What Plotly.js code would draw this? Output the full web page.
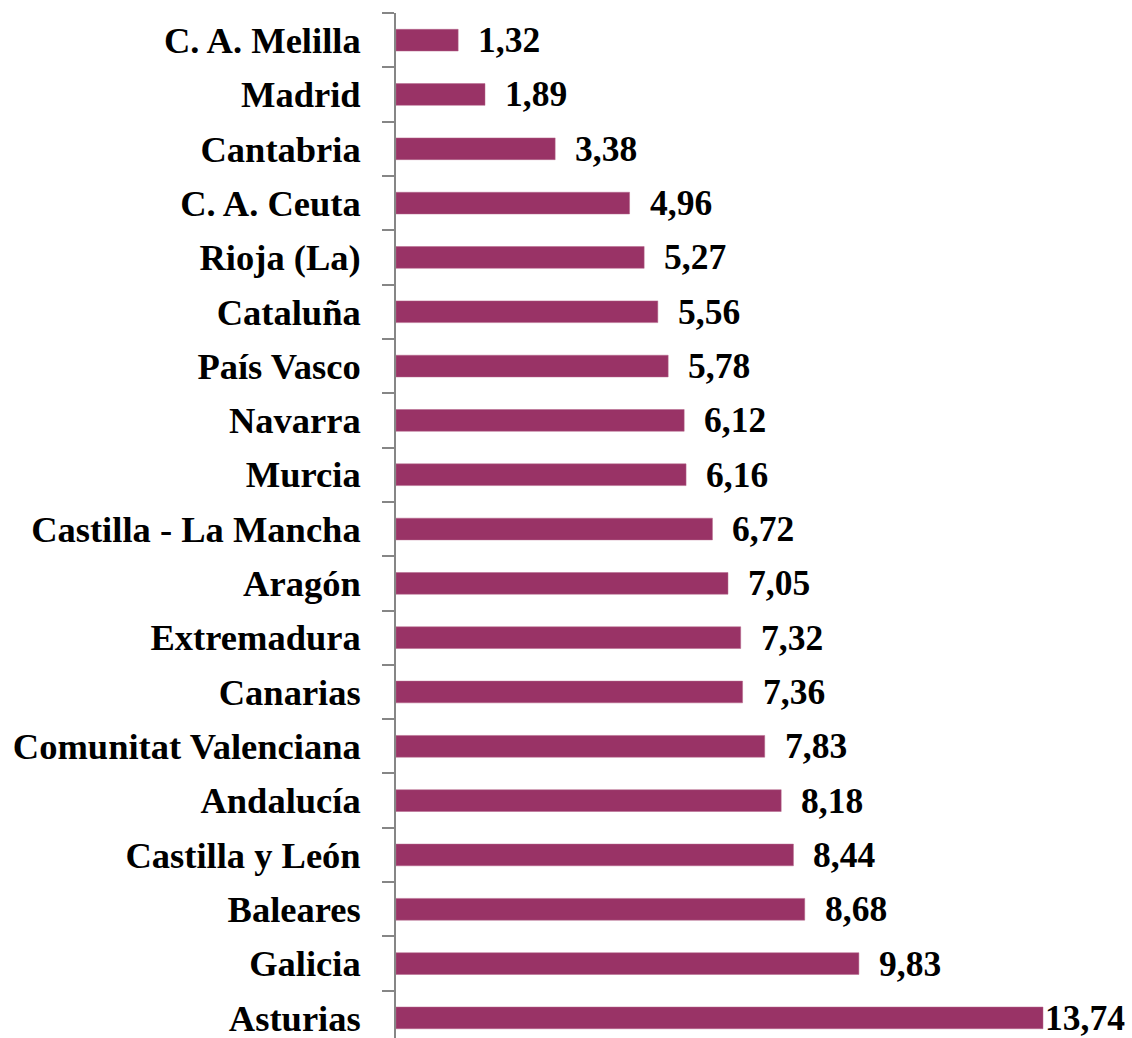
<!DOCTYPE html>
<html>
<head>
<meta charset="utf-8">
<script src="https://cdn.plot.ly/plotly-3.0.1.min.js"></script>
<style>html,body{margin:0;padding:0;background:#fff;}</style>
</head>
<body>
<div id="chart" style="width:1132px;height:1038px;"></div>
<script>
const regions = ["C. A. Melilla", "Madrid", "Cantabria", "C. A. Ceuta", "Rioja (La)", "Cataluña", "País Vasco", "Navarra", "Murcia", "Castilla - La Mancha", "Aragón", "Extremadura", "Canarias", "Comunitat Valenciana", "Andalucía", "Castilla y León", "Baleares", "Galicia", "Asturias"];
const values = [1.32, 1.89, 3.38, 4.96, 5.27, 5.56, 5.78, 6.12, 6.16, 6.72, 7.05, 7.32, 7.36, 7.83, 8.18, 8.44, 8.68, 9.83, 13.74];
const valueLabels = values.map(v => v.toFixed(2).replace('.', ','));

const fontFam = '"Liberation Serif", "Times New Roman", serif';

const annotations = values.map((v, i) => ({
  x: v, y: regions[i], xref: 'x', yref: 'y',
  text: valueLabels[i], showarrow: false,
  xanchor: 'left', yanchor: 'middle',
  xshift: (i === values.length - 1) ? 0 : 18,
  font: {family: fontFam, size: 35.5, color: '#000', weight: 'bold'}
}));

Plotly.newPlot('chart', [{
  type: 'bar', orientation: 'h',
  x: values, y: regions,
  marker: {color: '#993366', line: {color: '#b5668a', width: 0.5}},
  width: 0.4,
  hoverinfo: 'none'
}], {
  width: 1132, height: 1038,
  margin: {l: 396, r: 0, t: 13, b: 0, pad: 0},
  paper_bgcolor: '#fff', plot_bgcolor: '#fff',
  showlegend: false,
  xaxis: {range: [0, 15.63], visible: false, fixedrange: true},
  yaxis: {
    type: 'category', categoryorder: 'array', categoryarray: regions,
    range: [18.37, -0.5],
    showline: true, linecolor: '#868686', linewidth: 2,
    ticks: 'outside', tickson: 'boundaries', ticklen: 12, tickcolor: '#868686', tickwidth: 2,
    showgrid: false, zeroline: false,
    ticklabelstandoff: 26,
    tickfont: {family: fontFam, size: 36.5, color: '#000', weight: 'bold'},
    fixedrange: true
  },
  annotations: annotations
}, {displayModeBar: false, staticPlot: true});
</script>
</body>
</html>
